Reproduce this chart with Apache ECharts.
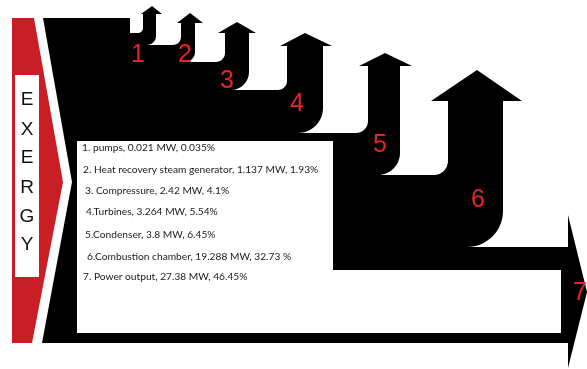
<!DOCTYPE html>
<html><head><meta charset="utf-8">
<script src="https://cdn.jsdelivr.net/npm/echarts@6/dist/echarts.min.js"></script>
<style>html,body{margin:0;padding:0;background:#fff}#c{width:587px;height:369px}</style>
</head><body><div id="c"></div>
<script>
// ---- data ----
const componentNames = ['pumps', 'Heat recovery steam generator', 'Compressure', 'Turbines', 'Condenser', 'Combustion chamber', 'Power output'];
const exergyMW = [0.021, 1.137, 2.42, 3.264, 3.8, 19.288, 27.38];
const exergyPct = [0.035, 1.93, 4.1, 5.54, 6.45, 32.73, 46.45];
const itemNumbers = ['1', '2', '3', '4', '5', '6', '7'];
const sideLetters = ['E', 'X', 'E', 'R', 'G', 'Y'];
// text quirks as printed in the source
const numberPrefix = ['1. ', '2. ', '3. ', '4.', '5.', '6.', '7. '];
const pctSpace = ['', '', '', '', '', ' ', ''];

// ---- layout (drawing units = pixels of the 587x369 frame) ----
const LAYOUT = {
  red: [[12, 18], [34, 18], [63, 182], [32, 343], [12, 343]],
  letterBox: [15, 75, 39, 277],
  letterX: 27,
  letterY: [100, 130, 158, 188, 217, 245],
  flowStart: [[43, 18], [130, 18], [130, 33]],
  arrows: [
    { inY: 33, fr: 5, sl: 143, sr: 156, hb: 14, hl: 141, hr: 162, tx: 152, ty: 6, jr: 9, outY: 45 },
    { inY: 45, fr: 8, sl: 181, sr: 195, hb: 23, hl: 177, hr: 203, tx: 190, ty: 13, jr: 10, outY: 62 },
    { inY: 62, fr: 9, sl: 225, sr: 249, hb: 33, hl: 218, hr: 256, tx: 237, ty: 22, jr: 18, outY: 90 },
    { inY: 90, fr: 9, sl: 287, sr: 323, hb: 46, hl: 280, hr: 332, tx: 305, ty: 33, jr: 25, outY: 133 },
    { inY: 133, fr: 12, sl: 368, sr: 400, hb: 66, hl: 359, hr: 412, tx: 385, ty: 53, jr: 22, outY: 175 },
    { inY: 175, fr: 14, sl: 448, sr: 503, hb: 101, hl: 431, hr: 522, tx: 477, ty: 70, jr: 36, outY: 247 }
  ],
  outlet: [[568, 247], [568, 215], [587, 292], [568, 368], [568, 343]],
  flowEnd: [[42, 343], [72, 182]],
  panel: [[77, 141], [333, 141], [333, 270], [561, 270], [561, 333], [77, 333]],
  numberPos: [[138, 55], [185, 55], [227, 81], [297, 104], [380, 145], [478, 200], [580, 293]],
  legendPos: [[82, 148], [83, 170], [85, 191], [86, 212], [85, 235], [87, 257], [83, 277]]
};

const chart = echarts.init(document.getElementById('c'), null, { renderer: 'canvas' });

function renderFrame(params, api) {
  const c = p => api.coord(p);
  const K = 0.5523;
  let d = '';
  const M = (x, y) => { const q = c([x, y]); d += 'M' + q[0] + ' ' + q[1] + ' '; };
  const Ln = (x, y) => { const q = c([x, y]); d += 'L' + q[0] + ' ' + q[1] + ' '; };
  const corner = (x0, y0, cx, cy, x1, y1) => {
    const a = c([x0 + (cx - x0) * K, y0 + (cy - y0) * K]);
    const b = c([x1 + (cx - x1) * K, y1 + (cy - y1) * K]);
    const e = c([x1, y1]);
    d += 'C' + a[0] + ' ' + a[1] + ' ' + b[0] + ' ' + b[1] + ' ' + e[0] + ' ' + e[1] + ' ';
  };
  const fs = LAYOUT.flowStart;
  M(fs[0][0], fs[0][1]);
  for (let i = 1; i < fs.length; i++) Ln(fs[i][0], fs[i][1]);
  LAYOUT.arrows.forEach(a => {
    Ln(a.sl - a.fr, a.inY);
    corner(a.sl - a.fr, a.inY, a.sl, a.inY, a.sl, a.inY - a.fr);
    Ln(a.sl, a.hb); Ln(a.hl, a.hb); Ln(a.tx, a.ty); Ln(a.hr, a.hb); Ln(a.sr, a.hb);
    Ln(a.sr, a.outY - a.jr);
    corner(a.sr, a.outY - a.jr, a.sr, a.outY, a.sr - a.jr, a.outY);
  });
  LAYOUT.outlet.forEach(p => Ln(p[0], p[1]));
  LAYOUT.flowEnd.forEach(p => Ln(p[0], p[1]));
  d += 'Z';

  const lb = LAYOUT.letterBox;
  const lb0 = c([lb[0], lb[1]]), lb1 = c([lb[2], lb[3]]);
  const children = [
    { type: 'polygon', shape: { points: LAYOUT.red.map(c) }, style: { fill: '#c91e25' } },
    { type: 'rect', shape: { x: lb0[0], y: lb0[1], width: lb1[0] - lb0[0], height: lb1[1] - lb0[1] }, style: { fill: '#ffffff' } },
    { type: 'path', shape: { pathData: d }, style: { fill: '#000000' } },
    { type: 'polygon', shape: { points: LAYOUT.panel.map(c) }, style: { fill: '#ffffff' } }
  ];
  sideLetters.forEach((ch, i) => {
    const q = c([LAYOUT.letterX, LAYOUT.letterY[i]]);
    children.push({ type: 'text', style: { text: ch, x: q[0], y: q[1], fill: '#111', fontSize: 19, fontFamily: 'Liberation Sans, Arial, sans-serif', align: 'center', verticalAlign: 'middle', textAlign: 'center', textVerticalAlign: 'middle' } });
  });
  return { type: 'group', children };
}

function renderItem(params, api) {
  const i = params.dataIndex;
  const np = api.coord(LAYOUT.numberPos[i]);
  const lp = api.coord(LAYOUT.legendPos[i]);
  const label = numberPrefix[i] + componentNames[i] + ', ' + exergyMW[i] + ' MW, ' + exergyPct[i] + pctSpace[i] + '%';
  return {
    type: 'group',
    children: [
      { type: 'text', style: { text: itemNumbers[i], x: np[0], y: np[1], fill: '#ea2329', fontSize: 25, fontFamily: 'Liberation Sans, Arial, sans-serif', align: 'center', verticalAlign: 'middle', textAlign: 'center', textVerticalAlign: 'middle' } },
      { type: 'text', style: { text: label, x: lp[0], y: lp[1], fill: '#1a1a1a', fontSize: 10.2, fontFamily: 'Lato, sans-serif', align: 'left', verticalAlign: 'middle', textAlign: 'left', textVerticalAlign: 'middle' } }
    ]
  };
}

chart.setOption({
  animation: false,
  backgroundColor: '#ffffff',
  grid: { left: 0, right: 0, top: 0, bottom: 0 },
  xAxis: { type: 'value', min: 0, max: 587, show: false },
  yAxis: { type: 'value', min: 0, max: 369, inverse: true, show: false },
  series: [
    { type: 'custom', name: 'frame', silent: true, clip: false, renderItem: renderFrame, data: [[0, 0]], z: 1 },
    { type: 'custom', name: 'exergy', silent: true, clip: false, renderItem: renderItem,
      data: componentNames.map((n, i) => ({ name: n, value: [i, exergyMW[i], exergyPct[i]] })), z: 2 }
  ]
});
</script></body></html>
